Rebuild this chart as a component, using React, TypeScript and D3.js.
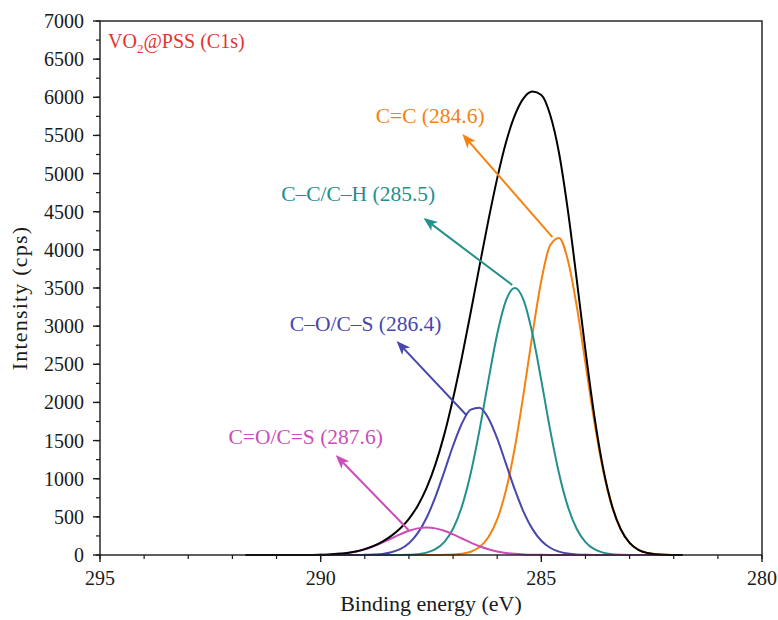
import React from "react";
import * as d3 from "d3";

// binding energy grid (eV)
const energy = [
  291.7, 291.0, 290.4, 290.0, 289.8, 289.6, 289.4, 289.2, 289.0, 288.8, 288.6,
  288.4, 288.2, 288.0, 287.8, 287.6, 287.4, 287.2, 287.0, 286.8, 286.6, 286.4,
  286.2, 286.0, 285.8, 285.6, 285.4, 285.2, 285.0, 284.8, 284.6, 284.4, 284.2,
  284.0, 283.8, 283.6, 283.4, 283.2, 283.0, 282.8, 282.6, 282.4, 282.2, 282.0,
  281.8,
];

// fitted envelope (black)
const envelope = [
  0, 0, 1, 4, 8, 15, 27, 47, 77, 120, 176, 251, 347, 475, 646, 879, 1188, 1578,
  2052, 2593, 3182, 3790, 4386, 4937, 5410, 5765, 5990, 6075, 6030, 5770, 5273,
  4524, 3620, 2681, 1827, 1139, 649, 337, 159, 68, 27, 10, 3, 1, 0,
];

// C=C (284.6)
const peakCC = [
  0, 0, 0, 0, 0, 0, 0, 0, 0, 0, 0, 0, 0, 0, 0, 0, 1, 2, 6, 16, 43, 105, 232, 467,
  851, 1409, 2121, 2899, 3599, 4059, 4157, 3868, 3269, 2509, 1750, 1108, 638,
  333, 158, 68, 27, 10, 3, 1, 0,
];

// C–C/C–H (285.5)
const peakCH = [
  0, 0, 0, 0, 0, 0, 0, 0, 0, 0, 0, 0, 1, 4, 11, 31, 76, 169, 344, 637, 1072,
  1641, 2286, 2896, 3338, 3500, 3338, 2896, 2286, 1641, 1072, 637, 344, 169, 76,
  31, 11, 4, 1, 0, 0, 0, 0, 0, 0,
];

// C–O/C–S (286.4)
const peakCO = [
  0, 0, 0, 0, 0, 0, 0, 1, 2, 6, 14, 35, 76, 154, 286, 488, 762, 1090, 1432, 1724,
  1905, 1930, 1793, 1528, 1194, 856, 563, 339, 187, 95, 44, 19, 7, 3, 1, 0, 0, 0,
  0, 0, 0, 0, 0, 0, 0,
];

// C=O/C=S (287.6)
const peakCOS = [
  0, 0, 1, 4, 8, 15, 27, 46, 75, 114, 162, 216, 270, 317, 349, 360, 349, 317,
  270, 216, 162, 114, 75, 46, 27, 15, 8, 4, 2, 1, 0, 0, 0, 0, 0, 0, 0, 0, 0, 0, 0,
  0, 0, 0, 0,
];

const xTicks = [295, 290, 285, 280];
const yTicks = [0, 500, 1000, 1500, 2000, 2500, 3000, 3500, 4000, 4500, 5000, 5500, 6000, 6500, 7000];

const peakLabels = ["C=C (284.6)", "C–C/C–H (285.5)", "C–O/C–S (286.4)", "C=O/C=S (287.6)"];
const peakColors = ["#f5820f", "#23908b", "#4747ad", "#cc4db9"];
const arrowFrom = [[284.75, 4168], [285.66, 3539], [286.7, 1835], [288.01, 328]];
const arrowTo = [[286.79, 5518], [287.67, 4417], [288.28, 2805], [289.66, 1311]];
const labelAt = [[287.52, 5662], [289.15, 4640], [288.98, 2936], [290.34, 1455]];

const W = 778;
const H = 620;
const margin = { top: 21, right: 16, bottom: 65, left: 100 };
const font = "'Liberation Serif', 'Times New Roman', serif";

export default function App() {
  const x = d3.scaleLinear().domain([295, 280]).range([margin.left, W - margin.right]);
  const y = d3.scaleLinear().domain([0, 7000]).range([H - margin.bottom, margin.top]);

  const line = d3
    .line<number>()
    .x((_, i) => x(energy[i]))
    .y((d) => y(d))
    .curve(d3.curveMonotoneX);

  const series = [
    { values: peakCC, color: peakColors[0] },
    { values: peakCH, color: peakColors[1] },
    { values: peakCO, color: peakColors[2] },
    { values: peakCOS, color: peakColors[3] },
  ];

  const x0 = x(295);
  const x1 = x(280);
  const yb = y(0);
  const yt = y(7000);

  const minorX = d3.range(295, 279.5, -1);
  const minorY = d3.range(0, 7001, 250);

  const arrows = peakLabels.map((lab, i) => {
    const sx = x(arrowFrom[i][0]);
    const sy = y(arrowFrom[i][1]);
    const tx = x(arrowTo[i][0]);
    const ty = y(arrowTo[i][1]);
    const len = Math.hypot(tx - sx, ty - sy);
    const ux = (tx - sx) / len;
    const uy = (ty - sy) / len;
    const L = 14;
    const hw = 5.5;
    const bx = tx - L * ux;
    const by = ty - L * uy;
    const nx = tx - 0.75 * L * ux;
    const ny = ty - 0.75 * L * uy;
    const head = [
      [tx, ty],
      [bx - hw * uy, by + hw * ux],
      [nx, ny],
      [bx + hw * uy, by - hw * ux],
    ]
      .map((p) => p.join(","))
      .join(" ");
    return (
      <g key={lab}>
        <line x1={sx} y1={sy} x2={nx} y2={ny} stroke={peakColors[i]} strokeWidth={2} />
        <polygon points={head} fill={peakColors[i]} />
        <text
          x={x(labelAt[i][0])}
          y={y(labelAt[i][1])}
          fill={peakColors[i]}
          fontSize={21.5}
          textAnchor="middle"
        >
          {lab}
        </text>
      </g>
    );
  });

  return (
    <svg
      width={W}
      height={H}
      style={{ position: "absolute", left: 0, top: 0, background: "#fff" }}
      fontFamily={font}
    >
      <rect x={0} y={0} width={W} height={H} fill="#fff" />

      {/* components, then envelope */}
      {series.map((s, i) => (
        <path key={i} d={line(s.values) || ""} fill="none" stroke={s.color} strokeWidth={2} />
      ))}
      <path d={line(envelope) || ""} fill="none" stroke="#000" strokeWidth={2} />

      {arrows}

      {/* frame */}
      <rect x={x0} y={yt} width={x1 - x0} height={yb - yt} fill="none" stroke="#1a1a1a" strokeWidth={1.4} />

      {/* x axis ticks */}
      {minorX.map((t) => (
        <line key={"mx" + t} x1={x(t)} x2={x(t)} y1={yb} y2={yb + 4} stroke="#1a1a1a" strokeWidth={1.2} />
      ))}
      {xTicks.map((t) => (
        <g key={"x" + t}>
          <line x1={x(t)} x2={x(t)} y1={yb} y2={yb + 7} stroke="#1a1a1a" strokeWidth={1.4} />
          <text x={x(t)} y={yb + 30} fontSize={20} textAnchor="middle" fill="#1a1a1a">
            {t}
          </text>
        </g>
      ))}

      {/* y axis ticks */}
      {minorY.map((t) => (
        <line key={"my" + t} x1={x0 - 4} x2={x0} y1={y(t)} y2={y(t)} stroke="#1a1a1a" strokeWidth={1.2} />
      ))}
      {yTicks.map((t) => (
        <g key={"y" + t}>
          <line x1={x0 - 7} x2={x0} y1={y(t)} y2={y(t)} stroke="#1a1a1a" strokeWidth={1.4} />
          <text x={x0 - 16} y={y(t) + 7} fontSize={20} textAnchor="end" fill="#1a1a1a">
            {t}
          </text>
        </g>
      ))}

      {/* axis titles */}
      <text x={(x0 + x1) / 2} y={H - 9} fontSize={22} textAnchor="middle" fill="#1a1a1a">
        Binding energy (eV)
      </text>
      <text
        transform={`translate(27,298) rotate(-90)`}
        fontSize={22}
        letterSpacing={1.2}
        textAnchor="middle"
        fill="#1a1a1a"
      >
        Intensity (cps)
      </text>

      {/* sample label */}
      <text x={x0 + 8} y={yt + 27} fontSize={20} fill="#e3342f">
        VO
        <tspan fontSize={13} dy={5}>
          2
        </tspan>
        <tspan dy={-5}>@PSS (C1s)</tspan>
      </text>
    </svg>
  );
}
